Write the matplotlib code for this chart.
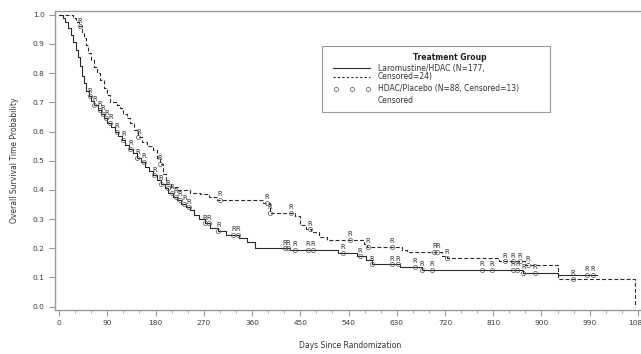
import matplotlib
matplotlib.use("Agg")
import matplotlib.pyplot as plt
from matplotlib.lines import Line2D
from matplotlib.patches import Rectangle
from matplotlib.ticker import MultipleLocator
import numpy as np

# Laromustine/HDAC (solid): step times and survival after each step
laro_t = [0, 8, 12, 17, 22, 27, 31, 35, 39, 43, 47, 51, 55, 60, 66, 72, 78, 84, 90, 97,
          104, 110, 117, 124, 131, 138, 146, 153, 160, 168, 175, 182, 190, 197, 204, 212,
          220, 228, 236, 244, 252, 262, 272, 282, 297, 312, 335, 350, 366, 430, 520, 556,
          572, 584, 636, 677, 866, 930, 1003]
laro_s = [1.0, 0.99, 0.975, 0.955, 0.93, 0.905, 0.88, 0.855, 0.825, 0.79, 0.765, 0.74, 0.72,
          0.705, 0.69, 0.675, 0.66, 0.645, 0.63, 0.615, 0.6, 0.585, 0.57, 0.555, 0.54, 0.525,
          0.51, 0.495, 0.48, 0.465, 0.45, 0.435, 0.42, 0.405, 0.39, 0.375, 0.365, 0.352, 0.34,
          0.33, 0.315, 0.3, 0.285, 0.27, 0.26, 0.245, 0.235, 0.22, 0.2, 0.194, 0.184, 0.172,
          0.16, 0.145, 0.136, 0.127, 0.115, 0.108, 0.108]

# HDAC/Placebo (dashed)
plac_t = [0, 26, 32, 37, 42, 46, 50, 54, 60, 66, 71, 77, 83, 89, 95, 108, 114, 120, 126, 132,
          140, 147, 155, 165, 175, 182, 188, 194, 199, 208, 222, 245, 263, 280, 295, 381, 393,
          440, 450, 460, 470, 485, 500, 568, 574, 640, 649, 715, 723, 820, 870, 930, 1074]
plac_s = [1.0, 0.99, 0.975, 0.96, 0.94, 0.92, 0.895, 0.87, 0.845, 0.82, 0.8, 0.775, 0.75,
          0.725, 0.7, 0.69, 0.68, 0.66, 0.645, 0.63, 0.605, 0.58, 0.565, 0.55, 0.535, 0.51,
          0.49, 0.455, 0.42, 0.41, 0.4, 0.39, 0.385, 0.375, 0.365, 0.355, 0.32, 0.31, 0.28,
          0.265, 0.255, 0.24, 0.228, 0.215, 0.204, 0.195, 0.187, 0.175, 0.167, 0.155, 0.143,
          0.095, 0.0]

# censoring times
laro_cens = [58, 66, 76, 82, 88, 96, 108, 120, 133, 146, 158, 178, 190, 203, 210, 218, 226,
             234, 242, 272, 280, 297, 325, 334, 421, 427, 440, 464, 474, 530, 561, 584, 621,
             632, 664, 677, 696, 789, 807, 847, 855, 866, 888, 985, 996]
plac_cens = [39, 148, 188, 300, 388, 393, 432, 468, 543, 576, 621, 700, 706, 723, 832, 847,
             860, 875, 959]

W, H = 641, 354
def fx(px):
    return px / W
def fy(py):
    return 1 - py / H

fig = plt.figure(figsize=(6.41, 3.54), dpi=100)
ax = fig.add_axes([fx(55), fy(309.5), fx(642) - fx(55), fy(11) - fy(309.5)])

ink = "#2a2a2a"
ax.step(laro_t, laro_s, where="post", color=ink, lw=0.8)
ax.step(plac_t, plac_s, where="post", color=ink, lw=0.8, ls=(0, (3.5, 2)))

def surv_at(ts, ss, t):
    i = np.searchsorted(ts, t, side="right") - 1
    return ss[i]

for ts, ss, cens in [(laro_t, laro_s, laro_cens), (plac_t, plac_s, plac_cens)]:
    for c in cens:
        y = surv_at(ts, ss, c)
        ax.plot(c, y, "o", mfc="none", mec="#555555", ms=3, mew=0.5)
        ax.annotate("R", (c, y), xytext=(0, 2.0), textcoords="offset points",
                    ha="center", va="bottom", fontsize=4.8, color=ink)

ax.set_xlim(-7.5, 1087.5)
ax.set_ylim(-0.0096, 1.0127)
ax.xaxis.set_major_locator(MultipleLocator(90))
ax.xaxis.set_minor_locator(MultipleLocator(30))
ax.yaxis.set_major_locator(MultipleLocator(0.1))
ax.yaxis.set_major_formatter(plt.FuncFormatter(lambda v, p: "%.1f" % v))
for sp in ax.spines.values():
    sp.set_color("#9a9a9a")
    sp.set_linewidth(1.0)
ax.tick_params(which="both", direction="out", color="#9a9a9a", labelsize=5.3,
               labelcolor="#3a3a3a")
ax.tick_params(which="major", length=4)
ax.tick_params(which="minor", length=2.5)

fig.text(fx(350), fy(345), "Days Since Randomization", ha="center", va="center",
         fontsize=5.5, color="#333333")
fig.text(fx(15), fy(160), "Overall Survival Time Probability", ha="center", va="center",
         rotation=90, fontsize=5.5, color="#333333")

# legend box
fig.patches.append(Rectangle((fx(322), fy(112)), fx(550) - fx(322), fy(46) - fy(112),
                             transform=fig.transFigure, fill=False, ec="#9a9a9a", lw=0.8))
fig.text(fx(450), fy(57), "Treatment Group", ha="center", va="center", fontsize=5.5,
         fontweight="bold", color="#222222")
fig.lines.append(Line2D([fx(333), fx(370)], [fy(68), fy(68)], transform=fig.transFigure,
                        color=ink, lw=0.8))
fig.lines.append(Line2D([fx(333), fx(370)], [fy(77), fy(77)], transform=fig.transFigure,
                        color=ink, lw=0.8, ls=(0, (2, 2))))
fig.lines.append(Line2D([fx(336), fx(352), fx(368)], [fy(89)] * 3, transform=fig.transFigure,
                        ls="none", marker="o", mfc="none", mec="#555555", ms=3, mew=0.5))
leg_rows = [("Laromustine/HDAC (N=177,", 68), ("Censored=24)", 77),
            ("HDAC/Placebo (N=88, Censored=13)", 89), ("Censored", 100)]
for txt, py in leg_rows:
    fig.text(fx(378), fy(py), txt, ha="left", va="center", fontsize=5.5, color="#333333")

fig.savefig("out.png", dpi=100)
